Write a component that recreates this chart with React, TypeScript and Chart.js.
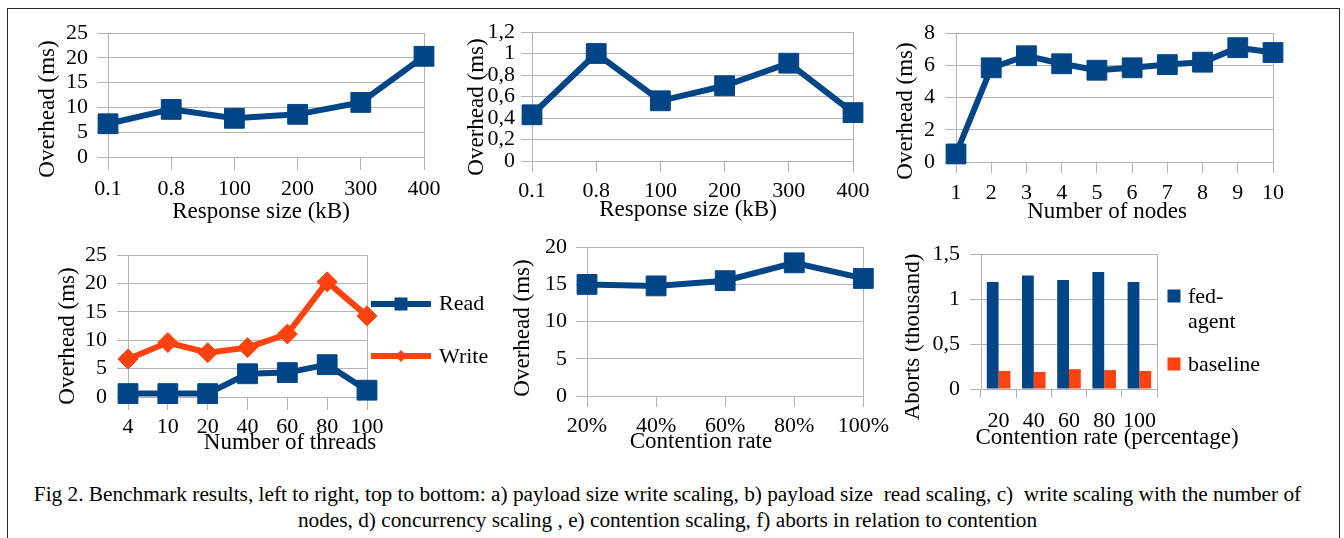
import React, { useEffect, useRef } from "react";
import { Chart, registerables } from "chart.js";

Chart.register(...registerables);

const BLUE = "#004586";
const ORANGE = "#ff420e";
const GRID = "#b3b3b3";
const SERIF = "'Liberation Serif', 'Times New Roman', serif";
Chart.defaults.font.family = SERIF;

// a) payload size write scaling
const sizeLabels = ["0.1", "0.8", "100", "200", "300", "400"];
const writeBySize = [6.7, 9.6, 7.8, 8.6, 11.0, 20.3];
// b) payload size read scaling
const readBySize = [0.43, 1.0, 0.56, 0.7, 0.91, 0.45];
// c) write scaling with number of nodes
const nodeLabels = ["1", "2", "3", "4", "5", "6", "7", "8", "9", "10"];
const writeByNodes = [0.5, 5.85, 6.6, 6.1, 5.7, 5.85, 6.05, 6.2, 7.1, 6.8];
// d) concurrency scaling
const threadLabels = ["4", "10", "20", "40", "60", "80", "100"];
const readByThreads = [0.6, 0.6, 0.6, 4.1, 4.3, 5.7, 1.2];
const writeByThreads = [6.7, 9.6, 7.8, 8.7, 11.1, 20.3, 14.3];
// e) contention scaling
const contentionLabels = ["20%", "40%", "60%", "80%", "100%"];
const overheadByContention = [15.0, 14.8, 15.5, 17.9, 15.8];
// f) aborts in relation to contention
const contentionPct = ["20", "40", "60", "80", "100"];
const abortsFedAgent = [1.19, 1.26, 1.21, 1.3, 1.19];
const abortsBaseline = [0.2, 0.19, 0.22, 0.21, 0.2];

const CAPTION_LINES = [
  "Fig 2. Benchmark results, left to right, top to bottom: a) payload size write scaling, b) payload size  read scaling, c)  write scaling with the number of",
  "nodes, d) concurrency scaling , e) contention scaling, f) aborts in relation to contention",
];

const TICK_FONT = 22;
const TITLE_FONT = 23;

const commaFmt = (v: number | string) => {
  const n = Math.round(Number(v) * 10) / 10;
  return String(n).replace(".", ",");
};

type LegendItem = {
  text: string[];
  color: string;
  kind: "line-rect" | "line-diamond" | "box";
  y: number;
  textY: number;
};

type Panel = {
  kind: "line" | "bar";
  box: [number, number, number, number];
  area: [number, number, number, number];
  labels: string[];
  datasets: any[];
  yMax: number;
  yStep: number;
  yFmt?: (v: number | string) => string;
  yTick: number;
  yPad: number;
  xTick: number;
  xPad: number;
  yTitle: { text: string; x: number; y: number };
  xTitle: { text: string; x: number; y: number };
  legend?: { markerX: number; lineX0: number; lineX1: number; textX: number; items: LegendItem[] };
};

const lineDs = (label: string, data: number[], color: string, style: string, radius: number) => ({
  label,
  data,
  borderColor: color,
  backgroundColor: color,
  borderWidth: 6,
  pointStyle: style,
  pointRadius: radius,
  pointBackgroundColor: color,
  pointBorderColor: color,
  pointBorderWidth: 1,
  tension: 0,
  clip: false,
});

const barDs = (label: string, data: number[], color: string) => ({
  label,
  data,
  backgroundColor: color,
  borderWidth: 0,
  categoryPercentage: 0.67,
  barPercentage: 1.0,
});

const PANELS: Panel[] = [
  {
    kind: "line",
    box: [14, 10, 450, 215],
    area: [108, 33, 424, 157],
    labels: sizeLabels,
    datasets: [lineDs("Write", writeBySize, BLUE, "rect", 14)],
    yMax: 25,
    yStep: 5,
    yTick: 11,
    yPad: 9,
    xTick: 13,
    xPad: 6,
    yTitle: { text: "Overhead (ms)", x: 48, y: 109 },
    xTitle: { text: "Response size (kB)", x: 261, y: 212 },
  },
  {
    kind: "line",
    box: [455, 10, 440, 215],
    area: [532, 32, 853, 161],
    labels: sizeLabels,
    datasets: [lineDs("Read", readBySize, BLUE, "rect", 14)],
    yMax: 1.2,
    yStep: 0.2,
    yFmt: commaFmt,
    yTick: 11,
    yPad: 6,
    xTick: 11,
    xPad: 6,
    yTitle: { text: "Overhead (ms)", x: 477, y: 107 },
    xTitle: { text: "Response size (kB)", x: 688, y: 210 },
  },
  {
    kind: "line",
    box: [895, 10, 440, 215],
    area: [956, 33, 1273, 162],
    labels: nodeLabels,
    datasets: [lineDs("Write", writeByNodes, BLUE, "rect", 14)],
    yMax: 8,
    yStep: 2,
    yTick: 11,
    yPad: 10,
    xTick: 11,
    xPad: 7,
    yTitle: { text: "Overhead (ms)", x: 906, y: 111 },
    xTitle: { text: "Number of nodes", x: 1107, y: 212 },
  },
  {
    kind: "line",
    box: [14, 232, 500, 225],
    area: [128, 253, 367, 397],
    labels: threadLabels,
    datasets: [
      lineDs("Read", readByThreads, BLUE, "rect", 14),
      lineDs("Write", writeByThreads, ORANGE, "rectRot", 10),
    ],
    yMax: 25,
    yStep: 5,
    yTick: 11,
    yPad: 10,
    xTick: 13,
    xPad: 4,
    yTitle: { text: "Overhead (ms)", x: 68, y: 336 },
    xTitle: { text: "Number of threads", x: 290, y: 443 },
    legend: {
      markerX: 401,
      lineX0: 371,
      lineX1: 431,
      textX: 439,
      items: [
        { text: ["Read"], color: BLUE, kind: "line-rect", y: 304, textY: 304 },
        { text: ["Write"], color: ORANGE, kind: "line-diamond", y: 356, textY: 357 },
      ],
    },
  },
  {
    kind: "line",
    box: [495, 225, 400, 232],
    area: [587, 245, 865, 396],
    labels: contentionLabels,
    datasets: [lineDs("Overhead", overheadByContention, BLUE, "rect", 14)],
    yMax: 20,
    yStep: 5,
    yTick: 11,
    yPad: 9,
    xTick: 11,
    xPad: 6,
    yTitle: { text: "Overhead (ms)", x: 523, y: 328 },
    xTitle: { text: "Contention rate", x: 701, y: 442 },
  },
  {
    kind: "bar",
    box: [905, 225, 430, 232],
    area: [981, 254, 1157, 389],
    labels: contentionPct,
    datasets: [
      barDs("fed-agent", abortsFedAgent, BLUE),
      barDs("baseline", abortsBaseline, ORANGE),
    ],
    yMax: 1.5,
    yStep: 0.5,
    yFmt: commaFmt,
    yTick: 11,
    yPad: 10,
    xTick: 9,
    xPad: 10,
    yTitle: { text: "Aborts (thousand)", x: 913, y: 337 },
    xTitle: { text: "Contention rate (percentage)", x: 1107, y: 438 },
    legend: {
      markerX: 1174,
      lineX0: 0,
      lineX1: 0,
      textX: 1188,
      items: [
        { text: ["fed-", "agent"], color: BLUE, kind: "box", y: 296, textY: 297 },
        { text: ["baseline"], color: ORANGE, kind: "box", y: 364, textY: 365 },
      ],
    },
  },
];

function makeChart(canvas: HTMLCanvasElement, p: Panel) {
  const [bx, by, bw, bh] = p.box;
  const [L, T, R, B] = p.area;
  const isBar = p.kind === "bar";

  const decor = {
    id: "decor",
    beforeDatasetsDraw(chart: any) {
      const { ctx, chartArea } = chart;
      ctx.save();
      ctx.strokeStyle = GRID;
      ctx.lineWidth = 1;
      const xr = Math.round(chartArea.right) + 0.5;
      ctx.beginPath();
      ctx.moveTo(xr, chartArea.top);
      ctx.lineTo(xr, chartArea.bottom);
      ctx.stroke();
      ctx.restore();
    },
    afterDraw(chart: any) {
      const ctx = chart.ctx as CanvasRenderingContext2D;
      ctx.save();
      ctx.fillStyle = "#000";
      ctx.textBaseline = "middle";
      ctx.textAlign = "center";
      ctx.font = `${TITLE_FONT}px ${SERIF}`;
      ctx.fillText(p.xTitle.text, p.xTitle.x - bx, p.xTitle.y - by);
      ctx.save();
      ctx.translate(p.yTitle.x - bx, p.yTitle.y - by);
      ctx.rotate(-Math.PI / 2);
      ctx.fillText(p.yTitle.text, 0, 0);
      ctx.restore();
      if (p.legend) {
        const lg = p.legend;
        ctx.font = `${TICK_FONT}px ${SERIF}`;
        ctx.textAlign = "left";
        for (const it of lg.items) {
          const my = it.y - by;
          const mx = lg.markerX - bx;
          ctx.fillStyle = it.color;
          ctx.strokeStyle = it.color;
          if (it.kind === "box") {
            ctx.fillRect(mx - 6.5, my - 6.5, 13, 13);
          } else {
            ctx.lineWidth = 6;
            ctx.beginPath();
            ctx.moveTo(lg.lineX0 - bx, my);
            ctx.lineTo(lg.lineX1 - bx, my);
            ctx.stroke();
            if (it.kind === "line-rect") {
              ctx.fillRect(mx - 6.5, my - 6.5, 13, 13);
            } else {
              ctx.beginPath();
              ctx.moveTo(mx - 6, my);
              ctx.lineTo(mx, my - 6);
              ctx.lineTo(mx + 6, my);
              ctx.lineTo(mx, my + 6);
              ctx.closePath();
              ctx.fill();
            }
          }
          ctx.fillStyle = "#000";
          it.text.forEach((t, k) => {
            ctx.fillText(t, lg.textX - bx, it.textY - by + k * 25);
          });
        }
      }
      ctx.restore();
    },
  };

  return new Chart(canvas, {
    type: p.kind,
    data: { labels: p.labels, datasets: p.datasets },
    options: {
      animation: false,
      responsive: false,
      maintainAspectRatio: false,
      events: [],
      layout: { padding: { top: T - by, right: bx + bw - R, left: 0, bottom: 0 } },
      plugins: {
        legend: { display: false },
        tooltip: { enabled: false },
        title: { display: false },
      },
      scales: {
        x: {
          type: "category",
          offset: isBar,
          grid: {
            display: true,
            drawOnChartArea: false,
            drawTicks: true,
            tickLength: p.xTick,
            color: GRID,
            offset: isBar,
          },
          border: { display: true, color: GRID },
          ticks: {
            font: { family: SERIF, size: TICK_FONT },
            color: "#000",
            padding: p.xPad,
            maxRotation: 0,
            minRotation: 0,
            autoSkip: false,
          },
          afterFit: (s: any) => {
            s.height = by + bh - B;
          },
        },
        y: {
          min: 0,
          max: p.yMax,
          grid: { color: GRID, tickLength: p.yTick, drawTicks: true },
          border: { display: true, color: GRID },
          ticks: {
            stepSize: p.yStep,
            autoSkip: false,
            font: { family: SERIF, size: TICK_FONT },
            color: "#000",
            padding: p.yPad,
            callback: (v: any) => (p.yFmt ? p.yFmt(v) : String(Math.round(Number(v) * 10) / 10)),
          },
          afterFit: (s: any) => {
            s.width = L - bx;
          },
        },
      },
    } as any,
    plugins: [decor],
  });
}

export default function App() {
  const refs = useRef<(HTMLCanvasElement | null)[]>([]);

  useEffect(() => {
    let charts: Chart[] = [];
    let cancelled = false;
    const build = () => {
      if (cancelled) return;
      charts.forEach((c) => c.destroy());
      charts = PANELS.map((p, i) => makeChart(refs.current[i] as HTMLCanvasElement, p));
    };
    build();
    const fontsApi = (document as any).fonts;
    if (fontsApi && fontsApi.load) {
      Promise.all([
        fontsApi.load(`${TICK_FONT}px "Liberation Serif"`),
        fontsApi.load(`${TITLE_FONT}px "Liberation Serif"`),
      ]).then(build, build);
    }
    return () => {
      cancelled = true;
      charts.forEach((c) => c.destroy());
      charts = [];
    };
  }, []);

  return (
    <div
      style={{
        position: "absolute",
        left: 0,
        top: 0,
        width: 1344,
        height: 538,
        background: "#fff",
        overflow: "hidden",
      }}
    >
      <div
        style={{
          position: "absolute",
          left: 7,
          top: 8,
          width: 1333,
          height: 560,
          border: "1px solid #2a2a2a",
          boxSizing: "border-box",
        }}
      />
      {PANELS.map((p, i) => (
        <canvas
          key={i}
          ref={(el) => {
            refs.current[i] = el;
          }}
          width={p.box[2]}
          height={p.box[3]}
          style={{
            position: "absolute",
            left: p.box[0],
            top: p.box[1],
            width: p.box[2],
            height: p.box[3],
          }}
        />
      ))}
      <div
        style={{
          position: "absolute",
          left: 1,
          width: 1333,
          top: 481,
          fontFamily: SERIF,
          fontSize: 21.3,
          lineHeight: "26px",
          textAlign: "center",
          color: "#000",
        }}
      >
        {CAPTION_LINES.map((t, i) => (
          <div key={i} style={{ whiteSpace: "pre" }}>
            {t}
          </div>
        ))}
      </div>
    </div>
  );
}
